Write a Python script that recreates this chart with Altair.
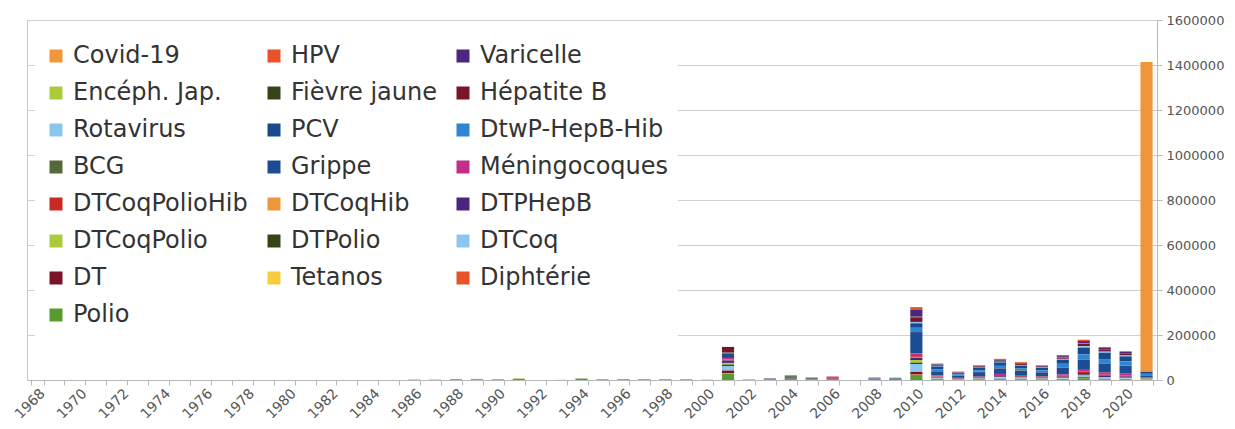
import altair as alt
import pandas as pd

YEARS = [str(y) for y in range(1968, 2022)]
Y_TICKS = [0, 200000, 400000, 600000, 800000, 1000000, 1200000, 1400000, 1600000]

LEGEND_ORDER = ["Covid-19", "HPV", "Varicelle", "Encéph. Jap.", "Fièvre jaune",
                "Hépatite B", "Rotavirus", "PCV", "DtwP-HepB-Hib", "BCG", "Grippe",
                "Méningocoques", "DTCoqPolioHib", "DTCoqHib", "DTPHepB", "DTCoqPolio",
                "DTPolio", "DTCoq", "DT", "Tetanos", "Diphtérie", "Polio"]
COLORS = ["#F0963A", "#E9532A", "#4B2680", "#AACB3A", "#354518",
          "#7A1428", "#8CC6F0", "#174A8C", "#2F85D0", "#56693A", "#1C4C94",
          "#C12E8C", "#C62A22", "#F0963A", "#4A2480", "#AACB3A",
          "#354518", "#8CC6F0", "#7A1428", "#F5CD3A", "#E9532A", "#5A9A30"]

covid19 = {2021: 1373000}
hpv = {2010: 13000, 2011: 3000, 2012: 2000, 2013: 3000, 2014: 4000, 2015: 4000,
       2016: 3000, 2017: 5000, 2018: 6000, 2019: 3000, 2020: 3000, 2021: 500}
varicelle = {2010: 30000, 2011: 2000, 2012: 1000, 2013: 2000, 2014: 4000, 2015: 3000,
             2016: 3000, 2017: 5000, 2018: 10000, 2019: 9000, 2020: 8000, 2021: 1000}
enceph_jap = {2010: 1000, 2017: 1000, 2018: 1500}
fievre_jaune = {2004: 2000, 2010: 2000, 2011: 1000, 2012: 500, 2014: 1000, 2015: 1000, 2018: 1500}
hepatite_b = {1995: 500, 1999: 500, 2001: 25000, 2003: 1000, 2005: 1000, 2006: 4000,
              2008: 1000, 2009: 1000, 2010: 20000, 2011: 4000, 2012: 2000, 2013: 3000,
              2014: 4000, 2015: 4000, 2016: 3000, 2017: 6000, 2018: 10000, 2019: 9000,
              2020: 8000, 2021: 1500}
rotavirus = {2010: 6000, 2011: 3000, 2012: 1500, 2013: 2000, 2014: 3000, 2015: 3000,
             2016: 2000, 2017: 4000, 2018: 6000, 2019: 5000, 2020: 4000, 2021: 1500}
pcv = {2010: 20000, 2011: 12000, 2012: 6000, 2013: 12000, 2014: 15000, 2015: 13000,
       2016: 12000, 2017: 18000, 2018: 30000, 2019: 28000, 2020: 22000, 2021: 8000}
dtwp_hepb_hib = {2010: 15000, 2011: 8000, 2012: 4000, 2013: 7000, 2014: 10000, 2015: 9000,
                 2016: 7000, 2017: 15000, 2018: 22000, 2019: 18000, 2020: 18000, 2021: 6000}
bcg = {1987: 300, 1988: 500, 1998: 500, 2001: 4000, 2004: 4000, 2005: 1500, 2008: 2000,
       2009: 2000, 2010: 4000, 2011: 2000, 2012: 1000, 2013: 1500, 2014: 2000, 2015: 2000,
       2016: 1500, 2017: 2000, 2018: 3000, 2019: 2000, 2020: 2000, 2021: 1000}
grippe = {1996: 500, 1997: 500, 2001: 20000, 2002: 1000, 2003: 2000, 2004: 3000, 2005: 2000,
          2006: 1500, 2008: 2000, 2009: 2000, 2010: 95000, 2011: 18000, 2012: 10000,
          2013: 20000, 2014: 24000, 2015: 18000, 2016: 18000, 2017: 30000, 2018: 40000,
          2019: 40000, 2020: 35000, 2021: 8000}
meningocoques = {2001: 5000, 2006: 4000, 2010: 12000, 2011: 4000, 2012: 2000, 2013: 3000,
                 2014: 5000, 2015: 4000, 2016: 4000, 2017: 6000, 2018: 12000, 2019: 9000,
                 2020: 8000, 2021: 3000}
dtcoqpoliohib = {2001: 3000, 2006: 2000, 2010: 4000, 2011: 2000, 2012: 1000, 2013: 2000,
                 2014: 4000, 2015: 3000, 2016: 2000, 2017: 4000, 2018: 6000, 2019: 5000,
                 2020: 4000, 2021: 1500}
dtcoqhib = {2001: 3000, 2010: 3000, 2011: 1000}
dtphepb = {2001: 11000, 2010: 10000, 2011: 3000, 2012: 1500, 2013: 3000, 2014: 4000,
           2015: 4000, 2016: 3000, 2017: 5000, 2018: 8000, 2019: 7000, 2020: 6000, 2021: 2000}
dtcoqpolio = {1991: 2000, 1994: 1000, 1999: 500, 2001: 8000, 2002: 500, 2010: 12000,
              2011: 2000, 2012: 1000, 2013: 2000, 2014: 3000, 2015: 3000, 2016: 2000,
              2017: 3000, 2018: 5000, 2019: 4000, 2020: 3000, 2021: 2000}
dtpolio = {1990: 500, 1996: 500, 1997: 500, 1998: 500, 2001: 6000, 2004: 5000, 2005: 2000,
           2010: 6000, 2011: 1000, 2012: 500, 2015: 1000, 2018: 2000}
dtcoq = {1988: 800, 1989: 1000, 1990: 500, 1994: 1000, 1995: 800, 1996: 800, 2001: 20000,
         2003: 1000, 2004: 1000, 2005: 1000, 2008: 1000, 2009: 1000, 2010: 35000,
         2011: 3000, 2012: 1500, 2013: 2000, 2014: 6000, 2015: 3000, 2016: 2000,
         2017: 3000, 2018: 4000, 2019: 3000, 2020: 2500, 2021: 2000}
dt = {1986: 700, 1987: 700, 1988: 1200, 1989: 1500, 1990: 1000, 1995: 1000, 1996: 1000,
      1997: 1000, 1998: 1000, 1999: 1000, 2000: 500, 2001: 12000, 2003: 1500, 2004: 3000,
      2005: 2000, 2006: 2000, 2008: 3000, 2009: 2500, 2010: 12000, 2011: 2000, 2012: 1000,
      2013: 1500, 2014: 2000, 2015: 2000, 2016: 1500, 2017: 2000, 2018: 3000, 2019: 2000,
      2020: 2000, 2021: 1000}
tetanos = {1987: 300, 1989: 500, 1995: 500, 2001: 1000, 2010: 1000, 2018: 1000}
diphterie = {1988: 300, 1989: 500, 2001: 1000, 2010: 1000}
polio = {1986: 800, 1988: 1500, 1989: 1500, 1990: 1000, 1991: 5000, 1992: 500, 1993: 500,
         1994: 6000, 1995: 1200, 1996: 1200, 1997: 1000, 1998: 1000, 1999: 1000, 2000: 500,
         2001: 28000, 2002: 800, 2003: 1500, 2004: 2000, 2005: 1500, 2006: 1500, 2008: 2000,
         2009: 1500, 2010: 22000, 2011: 2000, 2012: 1000, 2013: 1500, 2014: 3000,
         2015: 2000, 2016: 1500, 2017: 2000, 2018: 8000, 2019: 3000, 2020: 2500, 2021: 1000}

SERIES = {
    "Covid-19": covid19, "HPV": hpv, "Varicelle": varicelle, "Encéph. Jap.": enceph_jap,
    "Fièvre jaune": fievre_jaune, "Hépatite B": hepatite_b, "Rotavirus": rotavirus,
    "PCV": pcv, "DtwP-HepB-Hib": dtwp_hepb_hib, "BCG": bcg, "Grippe": grippe,
    "Méningocoques": meningocoques, "DTCoqPolioHib": dtcoqpoliohib, "DTCoqHib": dtcoqhib,
    "DTPHepB": dtphepb, "DTCoqPolio": dtcoqpolio, "DTPolio": dtpolio, "DTCoq": dtcoq,
    "DT": dt, "Tetanos": tetanos, "Diphtérie": diphterie, "Polio": polio,
}

rows = []
n = len(LEGEND_ORDER)
for name in LEGEND_ORDER:
    for year, v in SERIES[name].items():
        rows.append({"year": str(year), "vaccine": name, "value": v,
                     "stack": n - 1 - LEGEND_ORDER.index(name)})
df = pd.DataFrame(rows)

FONT = "DejaVu Sans"

chart = alt.Chart(df).mark_bar().encode(
    x=alt.X("year:N",
            scale=alt.Scale(domain=YEARS, paddingInner=0.42, paddingOuter=0.21),
            axis=alt.Axis(title=None, labelAngle=315, labelAlign="right",
                          labelBaseline="middle", labelFont=FONT, labelFontSize=14,
                          labelColor="#555555", labelOverlap=False, labelPadding=6,
                          labelOffset=5,
                          labelExpr="toNumber(datum.value) % 2 == 0 ? datum.label : ''",
                          tickBand="extent", tickSize=5, tickColor="#b8b8b8",
                          domainColor="#b8b8b8", grid=False)),
    y=alt.Y("value:Q", stack="zero",
            scale=alt.Scale(domain=[0, 1600000], nice=False, zero=True),
            axis=alt.Axis(title=None, orient="right", values=Y_TICKS, format="d",
                          labelFont=FONT, labelFontSize=13, labelColor="#555555",
                          labelPadding=4, tickSize=5, tickColor="#b8b8b8",
                          domainColor="#b8b8b8", gridColor="#d0d0d0")),
    color=alt.Color("vaccine:N",
                    scale=alt.Scale(domain=LEGEND_ORDER, range=COLORS),
                    legend=alt.Legend(title=None, orient="none", legendX=8, legendY=15,
                                      direction="horizontal", columns=3,
                                      labelFont=FONT, labelFontSize=24,
                                      labelColor="#333333", labelLimit=400,
                                      symbolType="square", symbolSize=169,
                                      symbolStrokeWidth=0, symbolOpacity=1,
                                      labelOffset=5, rowPadding=13, columnPadding=14,
                                      padding=9, fillColor="white")),
    order=alt.Order("stack:Q", sort="ascending"),
).properties(
    width=1130, height=360,
    autosize=alt.AutoSizeParams(type="none"),
    padding={"left": 19, "top": 12, "right": 70, "bottom": 44},
    background="white",
).configure_view(stroke="#c8c8c8")

chart.save("out.html", embed_options={"renderer": "svg", "actions": False})
